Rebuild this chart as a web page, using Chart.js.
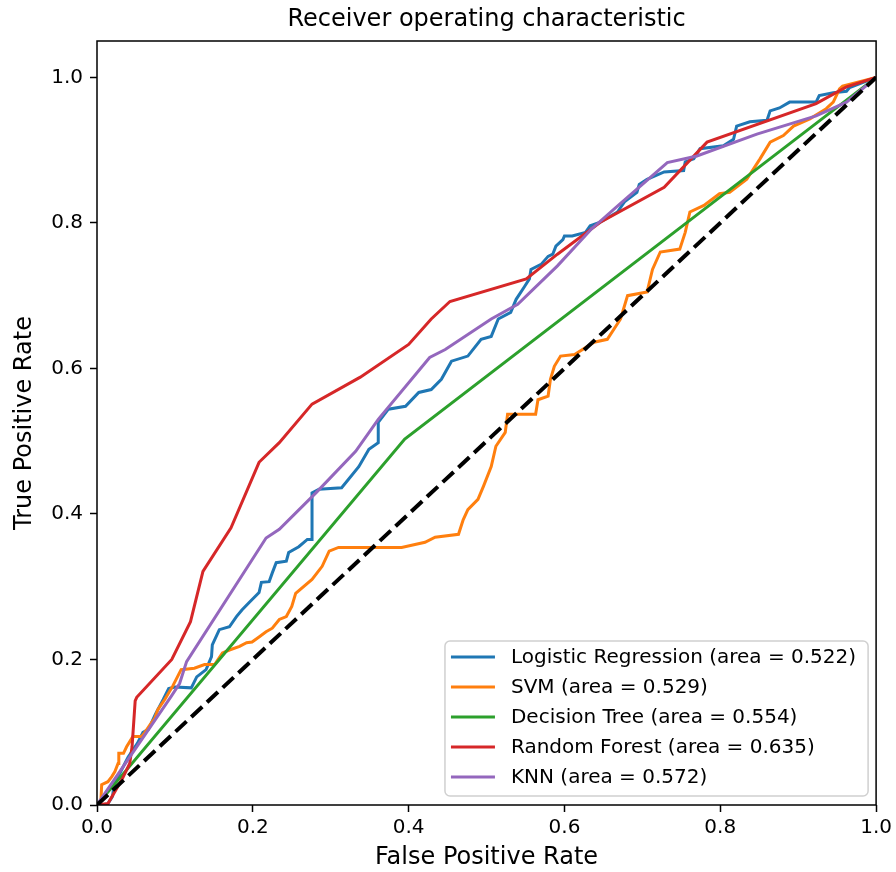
<!DOCTYPE html>
<html>
<head>
<meta charset="utf-8">
<title>Receiver operating characteristic</title>
<script src="https://cdn.jsdelivr.net/npm/chart.js@4.4.1/dist/chart.umd.min.js"></script>
<style>
  html, body { margin: 0; padding: 0; background: #fff; }
  canvas { display: block; }
</style>
</head>
<body>
<canvas id="roc" width="896" height="872"></canvas>
<script>
const chartTitle = 'Receiver operating characteristic';
const modelNames = ['Logistic Regression', 'SVM', 'Decision Tree', 'Random Forest', 'KNN'];
const modelAuc = [0.522, 0.529, 0.554, 0.635, 0.572];
const modelColors = ['#1f77b4', '#ff7f0e', '#2ca02c', '#d62728', '#9467bd'];
const tickValues = [0, 0.2, 0.4, 0.6, 0.8, 1.0];

// logistic regression
const lrFpr = [0, 0.013, 0.02, 0.022, 0.03, 0.04, 0.052, 0.059, 0.066, 0.075, 0.085, 0.092, 0.1, 0.121,
  0.128, 0.14, 0.147, 0.148, 0.157, 0.17, 0.179, 0.186, 0.195, 0.208, 0.211, 0.221, 0.225, 0.23, 0.243,
  0.246, 0.259, 0.27, 0.276, 0.276, 0.285, 0.314, 0.336, 0.349, 0.361, 0.361, 0.374, 0.396, 0.413, 0.429,
  0.442, 0.455, 0.476, 0.493, 0.506, 0.515, 0.531, 0.538, 0.549, 0.555, 0.557, 0.57, 0.579, 0.585, 0.589,
  0.598, 0.6, 0.61, 0.627, 0.633, 0.646, 0.668, 0.677, 0.693, 0.696, 0.706, 0.728, 0.753, 0.755, 0.766,
  0.774, 0.804, 0.817, 0.821, 0.838, 0.86, 0.864, 0.876, 0.889, 0.923, 0.927, 0.945, 0.962, 0.966, 1];
const lrTpr = [0, 0, 0.012, 0.03, 0.045, 0.066, 0.085, 0.1, 0.104, 0.125, 0.145, 0.16, 0.162, 0.161,
  0.176, 0.186, 0.204, 0.22, 0.241, 0.245, 0.259, 0.268, 0.278, 0.292, 0.306, 0.307, 0.319, 0.333, 0.335,
  0.347, 0.355, 0.365, 0.365, 0.429, 0.434, 0.436, 0.465, 0.489, 0.498, 0.526, 0.544, 0.548, 0.567, 0.571,
  0.585, 0.61, 0.617, 0.64, 0.644, 0.668, 0.677, 0.695, 0.713, 0.723, 0.736, 0.743, 0.754, 0.757, 0.768,
  0.777, 0.782, 0.782, 0.787, 0.796, 0.801, 0.815, 0.829, 0.842, 0.853, 0.86, 0.87, 0.872, 0.884, 0.888,
  0.902, 0.906, 0.915, 0.933, 0.939, 0.941, 0.954, 0.958, 0.966, 0.966, 0.975, 0.979, 0.981, 0.986, 1];

// svm
const svmFpr = [0, 0.005, 0.006, 0.014, 0.019, 0.023, 0.027, 0.028, 0.034, 0.038, 0.046, 0.057, 0.061,
  0.068, 0.074, 0.078, 0.087, 0.097, 0.108, 0.125, 0.138, 0.151, 0.161, 0.17, 0.183, 0.192, 0.199, 0.208,
  0.217, 0.225, 0.234, 0.243, 0.25, 0.255, 0.276, 0.289, 0.298, 0.31, 0.391, 0.421, 0.434, 0.464, 0.47,
  0.476, 0.489, 0.496, 0.506, 0.512, 0.524, 0.527, 0.563, 0.566, 0.579, 0.582, 0.587, 0.595, 0.613, 0.638,
  0.655, 0.672, 0.681, 0.706, 0.713, 0.723, 0.748, 0.755, 0.761, 0.779, 0.799, 0.812, 0.834, 0.851, 0.864,
  0.881, 0.894, 0.915, 0.936, 0.945, 0.953, 0.957, 1];
const svmTpr = [0, 0.005, 0.028, 0.032, 0.039, 0.046, 0.057, 0.071, 0.071, 0.08, 0.094, 0.094, 0.099,
  0.11, 0.119, 0.131, 0.145, 0.163, 0.186, 0.188, 0.193, 0.193, 0.209, 0.213, 0.218, 0.223, 0.224, 0.231,
  0.238, 0.243, 0.255, 0.259, 0.273, 0.291, 0.31, 0.328, 0.349, 0.354, 0.354, 0.361, 0.368, 0.372, 0.392,
  0.406, 0.42, 0.438, 0.465, 0.493, 0.512, 0.537, 0.537, 0.557, 0.562, 0.585, 0.603, 0.617, 0.619, 0.636,
  0.64, 0.668, 0.7, 0.705, 0.736, 0.76, 0.764, 0.787, 0.815, 0.824, 0.84, 0.842, 0.86, 0.888, 0.911,
  0.92, 0.933, 0.943, 0.957, 0.966, 0.984, 0.988, 1];

// decision tree
const dtFpr = [0, 0.395, 1];
const dtTpr = [0, 0.503, 1];

// random forest
const rfFpr = [0, 0.014, 0.032, 0.042, 0.045, 0.049, 0.051, 0.096, 0.12, 0.136, 0.172, 0.208, 0.234,
  0.276, 0.338, 0.4, 0.429, 0.453, 0.551, 0.591, 0.646, 0.728, 0.783, 0.923, 0.962, 1];
const rfTpr = [0, 0.002, 0.035, 0.057, 0.08, 0.143, 0.148, 0.2, 0.252, 0.321, 0.381, 0.471, 0.498,
  0.551, 0.588, 0.633, 0.668, 0.692, 0.723, 0.757, 0.801, 0.849, 0.911, 0.964, 0.987, 1];

// knn
const knnFpr = [0, 0.095, 0.106, 0.115, 0.217, 0.234, 0.281, 0.332, 0.361, 0.427, 0.447, 0.506, 0.54,
  0.591, 0.634, 0.668, 0.732, 0.77, 0.847, 0.923, 0.962, 1];
const knnTpr = [0, 0.149, 0.167, 0.197, 0.367, 0.379, 0.429, 0.486, 0.53, 0.615, 0.626, 0.668, 0.688,
  0.741, 0.791, 0.823, 0.883, 0.892, 0.922, 0.947, 0.966, 1];

// chance line
const chanceFpr = [0, 1];
const chanceTpr = [0, 1];

const curves = [[lrFpr, lrTpr], [svmFpr, svmTpr], [dtFpr, dtTpr], [rfFpr, rfTpr], [knnFpr, knnTpr]];
const toPoints = (xs, ys) => xs.map((x, i) => ({x: x, y: ys[i]}));

Chart.defaults.font.family = 'DejaVu Sans';
Chart.defaults.color = '#000';

const datasets = curves.map((c, i) => ({
  label: modelNames[i] + ' (area = ' + modelAuc[i].toFixed(3) + ')',
  data: toPoints(c[0], c[1]),
  borderColor: modelColors[i],
  borderWidth: 3,
  pointRadius: 0,
  tension: 0,
  fill: false,
  order: 10 - i
}));
datasets.push({
  label: 'chance',
  data: toPoints(chanceFpr, chanceTpr),
  borderColor: '#000',
  borderWidth: 4,
  borderDash: [15, 6.5],
  pointRadius: 0,
  fill: false,
  order: 0
});

// box around the plotting area, title centred over it
const frame = {
  id: 'frame',
  afterDatasetsDraw(chart) {
    const {ctx, chartArea: {left, top, right, bottom}} = chart;
    ctx.save();
    ctx.strokeStyle = '#000';
    ctx.lineWidth = 1.5;
    ctx.strokeRect(left, top, right - left, bottom - top);

    ctx.fillStyle = '#000';
    ctx.font = '24px "DejaVu Sans"';
    ctx.textAlign = 'center';
    ctx.textBaseline = 'middle';
    ctx.fillText(chartTitle, (left + right) / 2, top - 21);
    ctx.restore();
  }
};

// lower right legend, drawn inside the axes
const rocLegend = {
  id: 'rocLegend',
  afterDraw(chart) {
    const {ctx, chartArea} = chart;
    const items = chart.data.datasets.slice(0, modelNames.length);
    ctx.save();
    ctx.font = '20px "DejaVu Sans"';
    let textW = 0;
    items.forEach(d => { textW = Math.max(textW, ctx.measureText(d.label).width); });
    const rowH = 30;
    const w = 66 + textW + 12;
    const h = 155;
    const x0 = chartArea.right - 8 - w;
    const y0 = chartArea.bottom - 9 - h;

    ctx.beginPath();
    ctx.roundRect(x0, y0, w, h, 5);
    ctx.fillStyle = 'rgba(255,255,255,0.8)';
    ctx.fill();
    ctx.strokeStyle = '#d0d0d0';
    ctx.lineWidth = 1.5;
    ctx.stroke();

    ctx.textBaseline = 'middle';
    ctx.textAlign = 'left';
    items.forEach((d, i) => {
      const cy = y0 + 16 + i * rowH;
      ctx.beginPath();
      ctx.moveTo(x0 + 6, cy);
      ctx.lineTo(x0 + 50, cy);
      ctx.strokeStyle = d.borderColor;
      ctx.lineWidth = 3;
      ctx.stroke();
      ctx.fillStyle = '#000';
      ctx.fillText(d.label, x0 + 66, cy + 1);
    });
    ctx.restore();
  }
};

const axisTicks = s => { s.ticks = tickValues.map(v => ({value: v})); };

new Chart(document.getElementById('roc'), {
  type: 'line',
  data: {datasets: datasets},
  plugins: [frame, rocLegend],
  options: {
    responsive: false,
    animation: false,
    devicePixelRatio: 1,
    layout: {padding: {left: 0, right: 16, top: 41, bottom: 0}},
    plugins: {
      legend: {display: false},
      tooltip: {enabled: false},
      title: {display: false}
    },
    scales: {
      x: {
        type: 'linear',
        min: 0,
        max: 1,
        afterBuildTicks: axisTicks,
        afterFit: s => { s.height = 67; },
        border: {display: false},
        grid: {drawOnChartArea: false, drawTicks: true, tickLength: 7, tickColor: '#000', tickWidth: 1.5},
        ticks: {padding: 4, font: {size: 20}, color: '#000', maxRotation: 0, callback: v => v.toFixed(1)},
        title: {display: true, text: 'False Positive Rate', font: {size: 24}, color: '#000', padding: {top: 0, bottom: 0}}
      },
      y: {
        type: 'linear',
        min: 0,
        max: 1.05,
        afterBuildTicks: axisTicks,
        afterFit: s => { s.width = 97; },
        border: {display: false},
        grid: {drawOnChartArea: false, drawTicks: true, tickLength: 7, tickColor: '#000', tickWidth: 1.5},
        ticks: {padding: 7, font: {size: 20}, color: '#000', callback: v => v.toFixed(1)},
        title: {display: true, text: 'True Positive Rate', font: {size: 24}, color: '#000', padding: {top: 10, bottom: 0}}
      }
    }
  }
});
</script>
</body>
</html>
